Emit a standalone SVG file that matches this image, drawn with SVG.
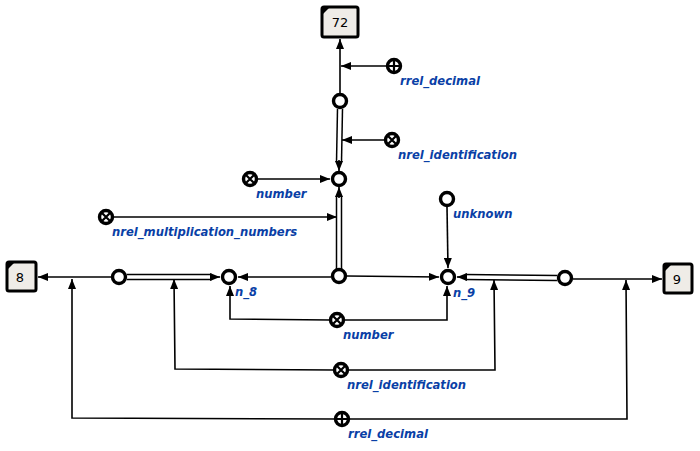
<svg xmlns="http://www.w3.org/2000/svg" width="700" height="451" viewBox="0 0 700 451">
  <defs>
    <marker id="arrow" viewBox="0 0 10 8" refX="10" refY="4" markerWidth="10" markerHeight="8" markerUnits="userSpaceOnUse" orient="auto">
      <path d="M0,0 L10,4 L0,8 Z" fill="#000"/>
    </marker>
  </defs>
  <style>
    .edge { fill: none; stroke: #000; stroke-width: 1.6; }
    .dbl-out { fill: none; stroke: #000; stroke-width: 6.5; }
    .dbl-in { fill: none; stroke: #fff; stroke-width: 3.5; }
    .node { fill: #fff; stroke: #000; stroke-width: 3.4; }
    .rel { fill: #fff; stroke: #000; stroke-width: 3.4; }
    .mark { stroke: #000; stroke-width: 2.2; }
    .box { fill: #efece7; stroke: #000; stroke-width: 3; }
    .corner { fill: #000; }
    .lbl { font-family: "DejaVu Sans", sans-serif; font-size: 11.6px; font-weight: bold; font-style: italic; fill: #0a3fa6; }
    .num { font-family: "DejaVu Sans", sans-serif; font-size: 13px; fill: #000; }
  </style>
  <rect width="700" height="451" fill="#fff"/>

  <g id="connectors">
    <!-- vertical chain up to 72 -->
    <path class="edge" d="M340,93 L340,39" marker-end="url(#arrow)"/>
    <path class="edge" d="M387,66 L341,66" marker-end="url(#arrow)"/>
    <path class="dbl-out" d="M340,109 L339,162"/>
    <path class="dbl-in" d="M340,109 L339,162"/>
    <path class="edge" d="M339,160 L339,171" marker-end="url(#arrow)"/>
    <path class="edge" d="M385,140 L342,140" marker-end="url(#arrow)"/>
    <path class="edge" d="M257,179 L330,179" marker-end="url(#arrow)"/>
    <path class="dbl-out" d="M339,269 L339,196"/>
    <path class="dbl-in" d="M339,269 L339,196"/>
    <path class="edge" d="M339,198 L339,187" marker-end="url(#arrow)"/>
    <path class="edge" d="M113,217 L337,217" marker-end="url(#arrow)"/>
    <!-- tuple to n_8 / n_9 -->
    <path class="edge" d="M331,277 L238,277" marker-end="url(#arrow)"/>
    <path class="edge" d="M347,276 L439,277" marker-end="url(#arrow)"/>
    <path class="edge" d="M447,207 L448,268" marker-end="url(#arrow)"/>
    <!-- left part -->
    <path class="edge" d="M111,277 L38,277" marker-end="url(#arrow)"/>
    <path class="dbl-out" d="M127,277 L212,277"/>
    <path class="dbl-in" d="M127,277 L212,277"/>
    <path class="edge" d="M210,277 L220,277" marker-end="url(#arrow)"/>
    <!-- right part -->
    <path class="dbl-out" d="M557,278 L465,277"/>
    <path class="dbl-in" d="M557,278 L465,277"/>
    <path class="edge" d="M467,277 L457,277" marker-end="url(#arrow)"/>
    <path class="edge" d="M573,279 L662,279" marker-end="url(#arrow)"/>
    <!-- number -->
    <path class="edge" d="M330,320 L230,319 L230,286" marker-end="url(#arrow)"/>
    <path class="edge" d="M344,320 L447,320 L447,286" marker-end="url(#arrow)"/>
    <!-- nrel_identification -->
    <path class="edge" d="M334,370 L175,369 L174,279" marker-end="url(#arrow)"/>
    <path class="edge" d="M348,370 L495,370 L494,280" marker-end="url(#arrow)"/>
    <!-- rrel_decimal -->
    <path class="edge" d="M335,419 L72,418 L72,279" marker-end="url(#arrow)"/>
    <path class="edge" d="M349,419 L627,419 L626,280" marker-end="url(#arrow)"/>
  </g>

  <g id="box72">
    <rect class="box" x="322" y="7" width="36" height="30" rx="2"/>
    <path class="corner" d="M322,7 L330,7 L322,15 Z"/>
    <text class="num" x="340" y="27" text-anchor="middle">72</text>
  </g>
  <g id="box8">
    <rect class="box" x="7" y="262" width="29" height="29" rx="2"/>
    <path class="corner" d="M7,262 L15,262 L7,270 Z"/>
    <text class="num" x="20" y="282" text-anchor="middle">8</text>
  </g>
  <g id="box9">
    <rect class="box" x="664" y="264" width="28" height="29" rx="2"/>
    <path class="corner" d="M664,264 L672,264 L664,272 Z"/>
    <text class="num" x="677" y="284" text-anchor="middle">9</text>
  </g>

  <g id="node_top"><circle class="node" cx="340" cy="101" r="6.5"/></g>
  <g id="node_mid"><circle class="node" cx="339" cy="179" r="6.5"/></g>
  <g id="node_tuple"><circle class="node" cx="339" cy="276" r="6.5"/></g>
  <g id="node_left"><circle class="node" cx="119" cy="277" r="6.5"/></g>
  <g id="node_right"><circle class="node" cx="565" cy="278" r="6.5"/></g>
  <g id="n_8">
    <circle class="node" cx="229" cy="277" r="6.5"/>
    <text class="lbl" x="235" y="296">n_8</text>
  </g>
  <g id="n_9">
    <circle class="node" cx="448" cy="277" r="6.5"/>
    <text class="lbl" x="453" y="297">n_9</text>
  </g>
  <g id="unknown">
    <circle class="node" cx="447" cy="199" r="6.5"/>
    <text class="lbl" x="453" y="218">unknown</text>
  </g>

  <g id="rrel_decimal_top">
    <circle class="rel" cx="394" cy="66" r="6.5"/>
    <path class="mark" d="M394,60 V72 M388,66 H400"/>
    <text class="lbl" x="400" y="85">rrel_decimal</text>
  </g>
  <g id="nrel_identification_top">
    <circle class="rel" cx="392" cy="140" r="6.5"/>
    <path class="mark" d="M388,136 L396,144 M396,136 L388,144"/>
    <text class="lbl" x="398" y="159">nrel_identification</text>
  </g>
  <g id="number_top">
    <circle class="rel" cx="250" cy="179" r="6.5"/>
    <path class="mark" d="M246,175 L254,183 M254,175 L246,183"/>
    <text class="lbl" x="256" y="198">number</text>
  </g>
  <g id="nrel_multiplication_numbers">
    <circle class="rel" cx="106" cy="217" r="6.5"/>
    <path class="mark" d="M102,213 L110,221 M110,213 L102,221"/>
    <text class="lbl" x="112" y="236">nrel_multiplication_numbers</text>
  </g>
  <g id="number_bottom">
    <circle class="rel" cx="337" cy="320" r="6.5"/>
    <path class="mark" d="M333,316 L341,324 M341,316 L333,324"/>
    <text class="lbl" x="343" y="339">number</text>
  </g>
  <g id="nrel_identification_bottom">
    <circle class="rel" cx="341" cy="370" r="6.5"/>
    <path class="mark" d="M337,366 L345,374 M345,366 L337,374"/>
    <text class="lbl" x="347" y="389">nrel_identification</text>
  </g>
  <g id="rrel_decimal_bottom">
    <circle class="rel" cx="342" cy="419" r="6.5"/>
    <path class="mark" d="M342,413 V425 M336,419 H348"/>
    <text class="lbl" x="348" y="438">rrel_decimal</text>
  </g>
</svg>
